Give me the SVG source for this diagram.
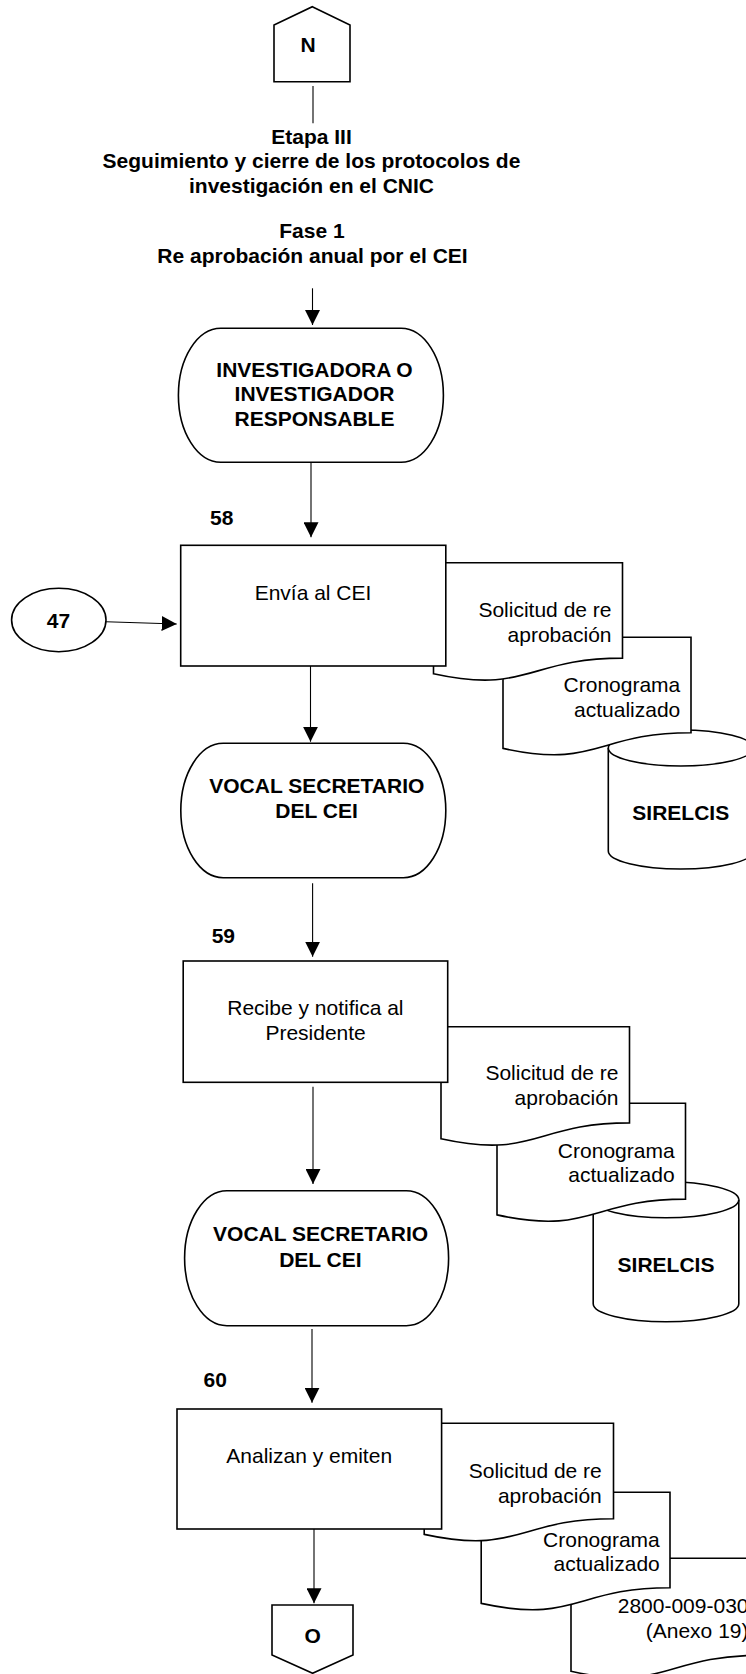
<svg xmlns="http://www.w3.org/2000/svg" width="746" height="1674" viewBox="0 0 746 1674">
  <style>
    .shape { fill: #ffffff; stroke: #000000; stroke-width: 1.6; stroke-linejoin: miter; }
    .edge { fill: none; stroke: #000000; stroke-width: 1.1; }
    text { font-family: "Liberation Sans", Arial, sans-serif; font-size: 21px; fill: #000000; }
    .b { font-weight: bold; }
    .c { text-anchor: middle; }
    .r { text-anchor: end; }
  </style>
  <defs>
    <marker id="arrow" viewBox="0 0 15 15" refX="15" refY="7.5" markerWidth="15" markerHeight="15" markerUnits="userSpaceOnUse" orient="auto">
      <path d="M0,0 L15,7.5 L0,15 Z" fill="#000000"/>
    </marker>
  </defs>

  <!-- off-page connector N -->
  <g id="connector-N">
    <polygon class="shape" points="312.3,6.7 350,25 350,81.7 274,81.7 274,25"/>
    <text class="b c" x="308" y="52.3">N</text>
  </g>

  <!-- stage heading -->
  <g id="heading">
    <text class="b c" x="311.5" y="143.5">Etapa III</text>
    <text class="b c" x="311.5" y="168">Seguimiento y cierre de los protocolos de</text>
    <text class="b c" x="311.5" y="192.5">investigación en el CNIC</text>
    <text class="b c" x="312" y="238">Fase 1</text>
    <text class="b c" x="312.5" y="262.5">Re aprobación anual por el CEI</text>
  </g>

  <!-- connectors -->
  <g id="connectors">
    <line class="edge" x1="313" y1="86" x2="313" y2="123.3"/>
    <line class="edge" x1="312.5" y1="288.3" x2="312.5" y2="325" marker-end="url(#arrow)"/>
    <line class="edge" x1="311" y1="462.3" x2="311" y2="537.3" marker-end="url(#arrow)"/>
    <line class="edge" x1="106" y1="621.7" x2="176.7" y2="624" marker-end="url(#arrow)"/>
    <line class="edge" x1="310.5" y1="666" x2="310.5" y2="741.7" marker-end="url(#arrow)"/>
    <line class="edge" x1="312.6" y1="883.3" x2="312.6" y2="956.7" marker-end="url(#arrow)"/>
    <line class="edge" x1="313" y1="1086.7" x2="313" y2="1184" marker-end="url(#arrow)"/>
    <line class="edge" x1="312" y1="1329" x2="312" y2="1402.7" marker-end="url(#arrow)"/>
    <line class="edge" x1="314" y1="1529" x2="314" y2="1603.3" marker-end="url(#arrow)"/>
  </g>

  <!-- role: investigadora o investigador responsable -->
  <g id="role-investigador">
    <path class="shape" d="M220.8,328.3 H401 A42.4,67 0 0 1 401,462.3 H220.8 A42.4,67 0 0 1 220.8,328.3 Z"/>
    <text class="b c" x="314.5" y="376.7">INVESTIGADORA O</text>
    <text class="b c" x="314.5" y="400.7">INVESTIGADOR</text>
    <text class="b c" x="314.5" y="426">RESPONSABLE</text>
  </g>

  <!-- step 58 -->
  <text id="label-58" class="b" x="210" y="525">58</text>
  <g id="db-58">
    <path class="shape" d="M608.3,748 V851 A72.5,18 0 0 0 753.3,851 V748 A72.5,18 0 0 0 608.3,748 Z"/>
    <path class="shape" d="M608.3,748 A72.5,18 0 0 0 753.3,748"/>
    <text class="b c" x="680.8" y="820">SIRELCIS</text>
  </g>
  <g id="doc-58-cronograma">
    <path class="shape" d="M503,637.3 H691 V732.7 C597,732.7 597,769.1 503,748.4 Z"/>
    <text class="r" x="680.3" y="691.7">Cronograma</text>
    <text class="r" x="680.3" y="716.7">actualizado</text>
  </g>
  <g id="doc-58-solicitud">
    <path class="shape" d="M433.5,562.7 H622.5 V658.1 C528,658.1 528,694.5 433.5,673.8 Z"/>
    <text class="r" x="611.5" y="616.7">Solicitud de re</text>
    <text class="r" x="611.5" y="641.7">aprobación</text>
  </g>
  <g id="step-58">
    <rect class="shape" x="180.7" y="545.3" width="265.1" height="120.7"/>
    <text class="c" x="313" y="599.5">Envía al CEI</text>
  </g>
  <g id="connector-47">
    <ellipse class="shape" cx="58.8" cy="620" rx="47.2" ry="31.7"/>
    <text class="b c" x="58.5" y="628.3">47</text>
  </g>

  <!-- role: vocal secretario (1) -->
  <g id="role-vocal-1">
    <path class="shape" d="M223.2,743.3 H403.4 A42.4,67.2 0 0 1 403.4,877.7 H223.2 A42.4,67.2 0 0 1 223.2,743.3 Z"/>
    <text class="b c" x="316.8" y="792.7">VOCAL SECRETARIO</text>
    <text class="b c" x="316.5" y="818.3">DEL CEI</text>
  </g>

  <!-- step 59 -->
  <text id="label-59" class="b" x="211.7" y="942.7">59</text>
  <g id="db-59">
    <path class="shape" d="M593.2,1199.7 V1303.7 A72.8,18 0 0 0 738.8,1303.7 V1199.7 A72.8,18 0 0 0 593.2,1199.7 Z"/>
    <path class="shape" d="M593.2,1199.7 A72.8,18 0 0 0 738.8,1199.7"/>
    <text class="b c" x="666" y="1271.7">SIRELCIS</text>
  </g>
  <g id="doc-59-cronograma">
    <path class="shape" d="M497,1103.3 H685.5 V1199.1 C591.3,1199.1 591.3,1235.6 497,1214.9 Z"/>
    <text class="r" x="674.6" y="1158.3">Cronograma</text>
    <text class="r" x="674.6" y="1181.7">actualizado</text>
  </g>
  <g id="doc-59-solicitud">
    <path class="shape" d="M441,1026.7 H629.5 V1122.9 C535.3,1122.9 535.3,1159.6 441,1138.8 Z"/>
    <text class="r" x="618.5" y="1080">Solicitud de re</text>
    <text class="r" x="618.5" y="1105">aprobación</text>
  </g>
  <g id="step-59">
    <rect class="shape" x="183.2" y="961" width="264.5" height="121.3"/>
    <text class="c" x="315.4" y="1015">Recibe y notifica al</text>
    <text class="c" x="315.6" y="1040">Presidente</text>
  </g>

  <!-- role: vocal secretario (2) -->
  <g id="role-vocal-2">
    <path class="shape" d="M226.9,1190.7 H406.3 A42.3,67.5 0 0 1 406.3,1325.7 H226.9 A42.3,67.5 0 0 1 226.9,1190.7 Z"/>
    <text class="b c" x="320.6" y="1240.7">VOCAL SECRETARIO</text>
    <text class="b c" x="320.4" y="1266.7">DEL CEI</text>
  </g>

  <!-- step 60 -->
  <text id="label-60" class="b" x="203.6" y="1386.7">60</text>
  <g id="doc-60-formato">
    <path class="shape" d="M571,1558.3 H760 V1655.3 C665.5,1655.3 665.5,1692.3 571,1671.3 Z"/>
    <text class="r" x="748.5" y="1613">2800-009-030</text>
    <text class="r" x="748.5" y="1638">(Anexo 19)</text>
  </g>
  <g id="doc-60-cronograma">
    <path class="shape" d="M481.2,1492.3 H670 V1587.7 C575.6,1587.7 575.6,1624.1 481.2,1603.4 Z"/>
    <text class="r" x="659.8" y="1546.7">Cronograma</text>
    <text class="r" x="659.8" y="1570.7">actualizado</text>
  </g>
  <g id="doc-60-solicitud">
    <path class="shape" d="M424.2,1423.3 H613.5 V1518.7 C518.9,1518.7 518.9,1555.1 424.2,1534.4 Z"/>
    <text class="r" x="601.8" y="1478.3">Solicitud de re</text>
    <text class="r" x="601.8" y="1502.7">aprobación</text>
  </g>
  <g id="step-60">
    <rect class="shape" x="177" y="1409" width="264.6" height="120"/>
    <text class="c" x="309.2" y="1463.3">Analizan y emiten</text>
  </g>

  <!-- off-page connector O -->
  <g id="connector-O">
    <polygon class="shape" points="272,1605 353,1605 353,1655 312.6,1673.3 272,1655"/>
    <text class="b c" x="312.6" y="1643.3">O</text>
  </g>
</svg>
